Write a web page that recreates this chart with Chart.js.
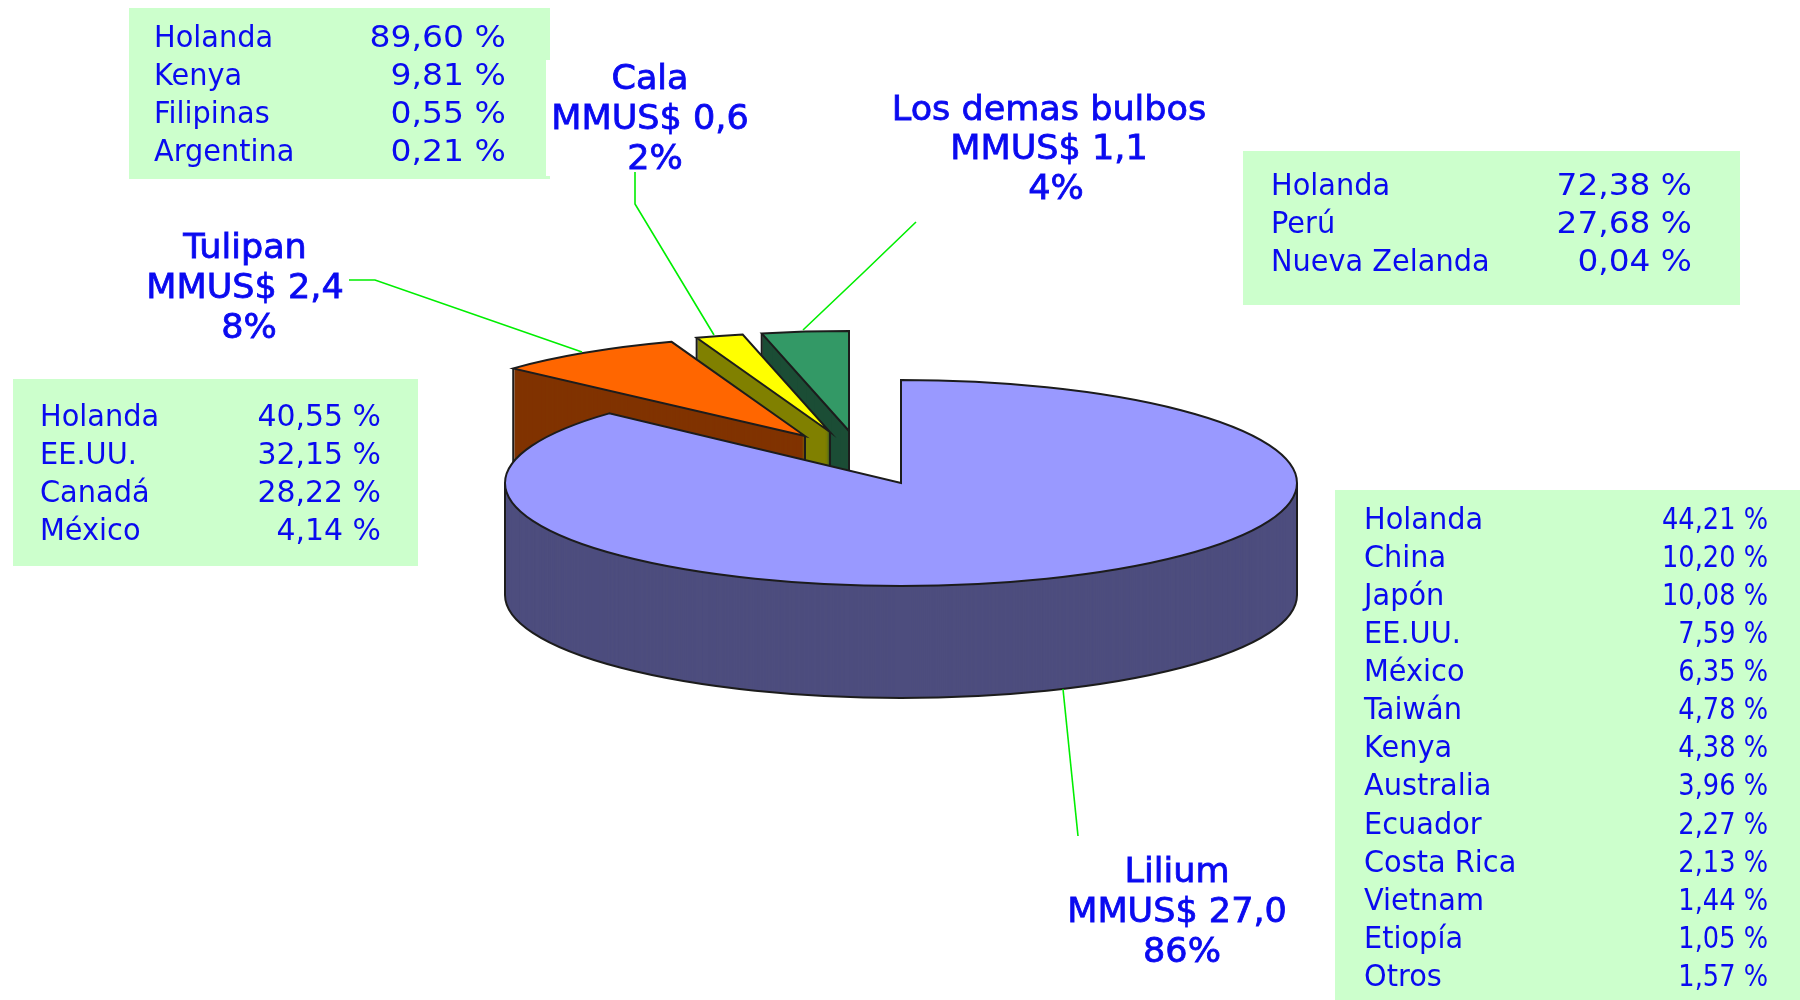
<!DOCTYPE html>
<html><head><meta charset="utf-8">
<style>html,body{margin:0;padding:0;background:#fff}canvas{display:block;filter:blur(0.4px)}</style>
<script src="https://cdn.jsdelivr.net/npm/chart.js@4/dist/chart.umd.min.js"></script>
</head><body><canvas id="c" width="1800" height="1000"></canvas>
<script>
// ---- data ----
const categories = ["Lilium","Tulipan","Cala","Los demas bulbos"];
const valuesMMUS = [27.0,2.4,0.6,1.1];
const valueLabels = ["MMUS$ 27,0","MMUS$ 2,4","MMUS$ 0,6","MMUS$ 1,1"];
const shareLabels = ["86%","8%","2%","4%"];
const liliumCountries = ["Holanda","China","Japón","EE.UU.","México","Taiwán","Kenya","Australia","Ecuador","Costa Rica","Vietnam","Etiopía","Otros"];
const liliumShares = ["44,21 %","10,20 %","10,08 %","7,59 %","6,35 %","4,78 %","4,38 %","3,96 %","2,27 %","2,13 %","1,44 %","1,05 %","1,57 %"];
const tulipanCountries = ["Holanda","EE.UU.","Canadá","México"];
const tulipanShares = ["40,55 %","32,15 %","28,22 %","4,14 %"];
const calaCountries = ["Holanda","Kenya","Filipinas","Argentina"];
const calaShares = ["89,60 %","9,81 %","0,55 %","0,21 %"];
const demasCountries = ["Holanda","Perú","Nueva Zelanda"];
const demasShares = ["72,38 %","27,68 %","0,04 %"];

// ---- layout and style ----
const topColors = ["#9999FF","#FF6600","#FFFF00","#339966"];
const sideColors = ["#4D4D7E","#803300","#808000","#1B4D35"];
const apexX = [901,805,830,849], apexY = [483,436,432,431];
const squash = [0.26,0.2525,0.2525,0.2525], depth = [112,112,112,112], drawOrder = [3,2,1,0];
const BASE_R = 396, BLUE = "#0A0AF0", EDGE = "#1c1c1c";
const panels = [
 {x:129,y:8,w:421,h:171,left:154,right:506,vs:1.16,rows:[39,77,115,153],names:calaCountries,vals:calaShares},
 {x:13,y:379,w:405,h:187,left:40,right:381,vs:1.05,rows:[418,456,494,532],names:tulipanCountries,vals:tulipanShares},
 {x:1243,y:151,w:497,h:154,left:1271,right:1692,vs:1.15,rows:[187,225,263],names:demasCountries,vals:demasShares},
 {x:1335,y:490,w:465,h:510,left:1364,right:1768,vs:0.9,rows:liliumCountries.map((_,i)=>521+i*38.1),names:liliumCountries,vals:liliumShares}
];
const labelPos = [
 {xs:[1177,1177,1182],ys:[873,913,953]},
 {xs:[245,245,249],ys:[249,289,329]},
 {xs:[650,650,655],ys:[80,120,160]},
 {xs:[1049,1049,1056],ys:[111,150,190]}
];
const leaders = [
 [[1063,689],[1078,836]],
 [[349,280],[375,280],[582,352]],
 [[635,172],[635,204],[714,335]],
 [[916,222],[863,273],[803,330]]
];

function stretchedText(ctx,txt,x,y,font,sx,align,heavy){
  ctx.save();ctx.font=font;ctx.fillStyle=BLUE;ctx.textBaseline="middle";ctx.textAlign=align;
  ctx.translate(x,y);ctx.scale(sx,1);ctx.fillText(txt,0,0);
  if(heavy){ctx.strokeStyle=BLUE;ctx.lineWidth=heavy;ctx.strokeText(txt,0,0);}
  ctx.restore();
}
function outline(ctx,ax,ay,rx,ry,a0,a1){
  ctx.beginPath();ctx.moveTo(ax,ay);ctx.ellipse(ax,ay,rx,ry,0,a0,a1);ctx.closePath();ctx.stroke();
}
const pie3d = {
  id:"pie3d",
  beforeDraw(chart){
    const ctx=chart.ctx;
    ctx.save();ctx.fillStyle="#fff";ctx.fillRect(0,0,1800,1000);
    ctx.fillStyle="#CCFFCC";
    panels.forEach(p=>ctx.fillRect(p.x,p.y,p.w,p.h));
    ctx.fillStyle="#fff";ctx.fillRect(546,60,12,116);
    panels.forEach(p=>p.rows.forEach((y,i)=>{
      stretchedText(ctx,p.names[i],p.left,y,"30px 'DejaVu Sans'",0.96,"left");
      stretchedText(ctx,p.vals[i],p.right,y,"30px 'DejaVu Sans'",0.95*p.vs,"right");
    }));
    ctx.restore();
  },
  beforeDatasetDraw(){return false;},
  afterDatasetsDraw(chart){
    const ctx=chart.ctx, arcs=chart.getDatasetMeta(0).data;
    const drawArc=(el,dy,i,color)=>{
      const saved=el.options;
      el.options=Object.assign({},saved,{backgroundColor:color,borderWidth:0});
      ctx.save();
      ctx.translate(apexX[i],apexY[i]+dy);
      ctx.scale(1,squash[i]);
      ctx.translate(-el.x,-el.y);
      el.draw(ctx);
      ctx.restore();
      el.options=saved;
    };
    drawOrder.forEach(i=>{
      const el=arcs[i],ax=apexX[i],ay=apexY[i];
      const rx=BASE_R,ry=rx*squash[i],d=depth[i];
      for(let k=d;k>=1;k--)drawArc(el,k,i,sideColors[i]);
      ctx.save();ctx.strokeStyle=EDGE;ctx.lineWidth=2;
      let verticals;
      if(i===0){
        ctx.beginPath();ctx.ellipse(ax,ay+d,rx,ry,0,0,Math.PI);ctx.stroke();
        verticals=[[ax-rx,ay],[ax+rx,ay]];
      }else{
        const a=el.startAngle;
        verticals=[[ax,ay],[ax+rx*Math.cos(a),ay+ry*Math.sin(a)]];
      }
      verticals.forEach(p=>{ctx.beginPath();ctx.moveTo(p[0],p[1]);ctx.lineTo(p[0],p[1]+d);ctx.stroke();});
      drawArc(el,0,i,topColors[i]);
      outline(ctx,ax,ay,rx,ry,el.startAngle,el.endAngle);
      ctx.restore();
    });
    // leader lines
    ctx.save();ctx.strokeStyle="#00EE00";ctx.lineWidth=1.6;
    leaders.forEach(l=>{ctx.beginPath();l.forEach((p,j)=>j?ctx.lineTo(p[0],p[1]):ctx.moveTo(p[0],p[1]));ctx.stroke();});
    ctx.restore();
    // labels
    categories.forEach((name,i)=>{
      const p=labelPos[i],f="34px 'DejaVu Sans'",s=1.03,h=0.8;
      stretchedText(ctx,name,p.xs[0],p.ys[0],f,s,"center",h);
      stretchedText(ctx,valueLabels[i],p.xs[1],p.ys[1],f,s,"center",h);
      stretchedText(ctx,shareLabels[i],p.xs[2],p.ys[2],f,s,"center",h);
    });
  }
};
new Chart(document.getElementById("c"),{
  type:"pie",
  data:{labels:categories,datasets:[{data:valuesMMUS,backgroundColor:topColors,borderWidth:0,radius:BASE_R}]},
  options:{responsive:false,animation:false,events:[],
    plugins:{legend:{display:false},tooltip:{enabled:false},title:{display:false}}},
  plugins:[pie3d]
});
</script></body></html>
